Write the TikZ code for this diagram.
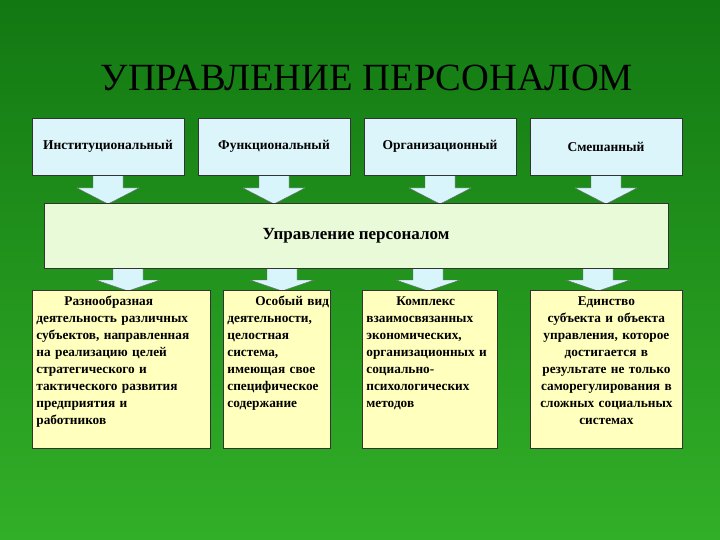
\documentclass[tikz,border=0pt]{standalone}
\usepackage{fontspec}
\setmainfont{Liberation Serif}
\definecolor{bgtop}{RGB}{18,120,18}
\definecolor{bgbot}{RGB}{50,175,40}
\definecolor{topbox}{RGB}{220,245,250}
\definecolor{midbox}{RGB}{232,250,215}
\definecolor{lowbox}{RGB}{255,255,190}
\definecolor{arr}{RGB}{215,245,250}
\begin{document}
\begin{tikzpicture}[x=1pt,y=-1pt,
  tb/.style={draw=black!80,fill=topbox,line width=0.8pt,font=\bfseries\fontsize{13.5}{16}\selectfont},
  lb/.style={draw=black!80,fill=lowbox,line width=0.8pt,font=\bfseries\fontsize{13.3}{17}\selectfont,align=left,anchor=north west,inner sep=3pt},
  ar/.style={fill=arr,draw=black!60,line width=0.4pt}]
\shade[top color=bgtop,bottom color=bgbot] (0,0) rectangle (720,540);
\useasboundingbox (0,0) rectangle (720,540);
\node[text=black,font=\fontsize{38.5}{44}\selectfont] (title) at (367,78) {УПРАВЛЕНИЕ ПЕРСОНАЛОМ};
% arrows top
\foreach \c in {108,274,440,606}{
  \draw[ar] (\c-15,174) -- (\c+15,174) -- (\c+15,188) -- (\c+31,188) -- (\c,204) -- (\c-31,188) -- (\c-15,188) -- cycle;}
% arrows bottom
\foreach \c in {128,282,428,598}{
  \draw[ar] (\c-15,267) -- (\c+15,267) -- (\c+15,280) -- (\c+32,280) -- (\c,291) -- (\c-32,280) -- (\c-15,280) -- cycle;}
\node[tb,minimum width=152,minimum height=57] (t1) at (108,146.5) {Институциональный};
\node[tb,minimum width=152,minimum height=57] (t2) at (274,146.5) {Функциональный};
\node[tb,minimum width=152,minimum height=57] (t3) at (440,146.5) {Организационный};
\node[tb,minimum width=152,minimum height=57] (t4) at (606,146.5) {Смешанный};
\node[draw=black!80,fill=midbox,line width=0.8pt,minimum width=624,minimum height=65,font=\bfseries\fontsize{17}{20}\selectfont] (mid) at (356,235.5) {Управление персоналом};
\draw[lb] (32,290) rectangle (210,448);
\node[lb,draw=none,fill=none,text width=172] (b1) at (33,293) {\hspace*{28pt}Разнообразная\\деятельность различных\\субъектов, направленная\\на реализацию целей\\стратегического и\\тактического развития\\предприятия и\\работников};
\draw[lb] (223,290) rectangle (330,448);
\node[lb,draw=none,fill=none,text width=104] (b2) at (224,293) {\hspace*{28pt}Особый вид\\деятельности,\\целостная\\система,\\имеющая свое\\специфическое\\содержание};
\draw[lb] (362,290) rectangle (497,448);
\node[lb,draw=none,fill=none,text width=132] (b3) at (363,293) {\hspace*{30pt}Комплекс\\взаимосвязанных\\экономических,\\организационных и\\социально-\\психологических\\методов};
\draw[lb] (530,290) rectangle (682,448);
\node[lb,draw=none,fill=none,text width=146,align=center] (b4) at (530,293) {Единство\\субъекта и объекта\\управления, которое\\достигается в\\результате не только\\саморегулирования в\\сложных социальных\\системах};
\end{tikzpicture}
\end{document}
